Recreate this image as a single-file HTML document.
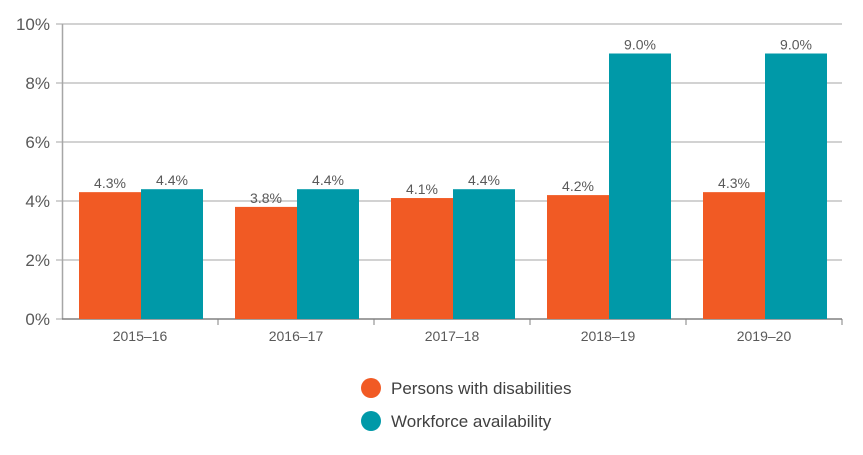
<!DOCTYPE html>
<html><head><meta charset="utf-8"><style>
body{margin:0;background:#fff;width:863px;height:450px;overflow:hidden;font-family:"Liberation Sans",sans-serif}
</style></head><body>
<svg id="chart" width="863" height="450" xmlns="http://www.w3.org/2000/svg"></svg>
<script>
const categories=["2015–16","2016–17","2017–18","2018–19","2019–20"];
const persons=[4.3,3.8,4.1,4.2,4.3];
const workforce=[4.4,4.4,4.4,9.0,9.0];
const yTicks=[0,2,4,6,8,10];
const svg=document.getElementById('chart');
const NS="http://www.w3.org/2000/svg";
const L=62,R=842,T=24,B=319,yMax=10;
const y=v=>B-(v/yMax)*(B-T);
const cw=(R-L)/categories.length;
const xg=i=>L+i*cw;
function mk(tag,attrs,txt){const e=document.createElementNS(NS,tag);for(const k in attrs)e.setAttribute(k,attrs[k]);if(txt!==undefined)e.textContent=txt;svg.appendChild(e);return e;}
yTicks.forEach(t=>{
  const g=mk('line',{x1:56,x2:R,y1:y(t),y2:y(t),stroke:'#a6a6a6','stroke-width':1});
  
  
  const l=mk('text',{x:50,y:y(t)+6,'text-anchor':'end','font-size':17,fill:'#595959'},t+'%');
  
  
});
const ax=mk('line',{x1:62.5,x2:62.5,y1:T,y2:B,stroke:'#a6a6a6','stroke-width':1.5});


const xa=mk('line',{x1:62,x2:R,y1:B,y2:B,stroke:'#808080','stroke-width':1.5});


for(let i=1;i<=categories.length;i++){
  const tk=mk('line',{x1:xg(i),x2:xg(i),y1:B,y2:B+6,stroke:'#808080','stroke-width':1});
  
  
}
const bw=62;
categories.forEach((c,i)=>{
  const x0=xg(i)+17;
  const b1=mk('rect',{x:x0,y:y(persons[i]),width:bw,height:B-y(persons[i]),fill:'#f15a24'});
  
  
  const b2=mk('rect',{x:x0+bw,y:y(workforce[i]),width:bw,height:B-y(workforce[i]),fill:'#0099a8'});
  
  
  const v1=mk('text',{x:x0+bw/2,y:y(persons[i])-4,'text-anchor':'middle','font-size':14,fill:'#595959'},persons[i].toFixed(1)+'%');
  
  
  const v2=mk('text',{x:x0+bw*1.5,y:y(workforce[i])-4,'text-anchor':'middle','font-size':14,fill:'#595959'},workforce[i].toFixed(1)+'%');
  
  
  const cl=mk('text',{x:xg(i)+cw/2,y:B+22,'text-anchor':'middle','font-size':14,fill:'#595959'},c);
  
  
});
const lg=[['Persons with disabilities','#f15a24',388],['Workforce availability','#0099a8',421]];
lg.forEach(([t,c,yy])=>{
  const d=mk('circle',{cx:371,cy:yy,r:10,fill:c});
  
  
  const tx=mk('text',{x:391,y:yy+6,'font-size':17,fill:'#404040'},t);
  
  
});
</script>
</body></html>
